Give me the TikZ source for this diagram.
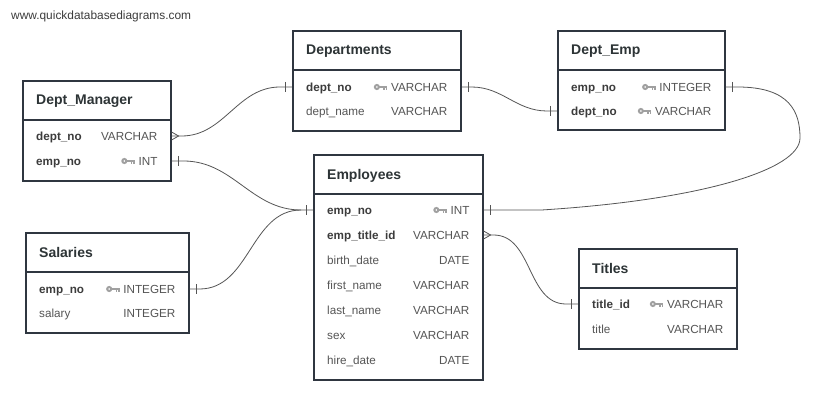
\documentclass[tikz,border=0pt]{standalone}
\usepackage{fontspec}
\setmainfont{Liberation Sans}
\definecolor{bordercol}{HTML}{2F3640}
\definecolor{titlecol}{HTML}{2D3436}
\definecolor{keytext}{HTML}{3C3C3C}
\definecolor{plaintext}{HTML}{555555}
\definecolor{keycol}{HTML}{A0A0A0}
\definecolor{conncol}{HTML}{555555}
\tikzset{
  tbox/.style={draw=bordercol, line width=1.6pt, fill=white, inner sep=0pt, anchor=north west},
  divline/.style={draw=bordercol, line width=1.6pt},
  ttitle/.style={anchor=west, inner sep=0pt, text height=10pt, text depth=0pt, font=\fontsize{14}{16}\selectfont\bfseries, text=titlecol},
  fkey/.style={anchor=west, inner sep=0pt, text height=8.4pt, text depth=0pt, font=\fontsize{11.7}{14}\selectfont\bfseries, text=keytext},
  fplain/.style={anchor=west, inner sep=0pt, text height=8.4pt, text depth=0pt, font=\fontsize{11.7}{14}\selectfont, text=plaintext},
  ftype/.style={anchor=east, inner sep=0pt, text height=8.4pt, text depth=0pt, font=\fontsize{11.7}{14}\selectfont, text=plaintext},
  conn/.style={draw=conncol, line width=0.8pt},
  keyicon/.pic={
    \draw[keycol, line width=2pt] (0,0) circle[radius=2pt];
    \fill[keycol] (2.5,-1.1) rectangle (10.5,1.1);
    \fill[keycol] (6.4,1.1) rectangle (7.8,3);
    \fill[keycol] (9.1,1.1) rectangle (10.5,3);
  }
}
% #1 name, #2 x, #3 y, #4 w, #5 h, #6 title
\newcommand\ertable[6]{%
  \node[tbox, minimum width=#4pt, minimum height=#5pt] (#1) at (#2,#3) {};
  \draw[divline] (#2,#3+40) -- (#2+#4,#3+40);
  \node[ttitle] (#1-title) at (#2+14,#3+20) {#6};
}
% #1 table, #2 row name, #3 y, #4 field, #5 type, #6 field style, #7 key (1/0)
\newcommand\errow[7]{%
  \coordinate (#1-#2-l) at (#1.west |- 0,#3);
  \coordinate (#1-#2-r) at (#1.east |- 0,#3);
  \node[#6] (#1-#2-f) at ([xshift=14pt]#1-#2-l) {#4};
  \node[ftype] (#1-#2-t) at ([xshift=-14pt]#1-#2-r) {#5};
  \ifnum#7=1 \pic at ([xshift=-14pt]#1-#2-t.west) {keyicon};\fi
}
\newcommand\barR[1]{\draw[conn] ([xshift=7pt]#1) ++(0,-5) -- ++(0,10);}
\newcommand\barL[1]{\draw[conn] ([xshift=-7pt]#1) ++(0,-5) -- ++(0,10);}
\newcommand\crowR[1]{\draw[conn] ([yshift=4pt]#1) -- ([xshift=7pt]#1) -- ([yshift=-4pt]#1);}
\begin{document}
\begin{tikzpicture}[x=1pt,y=-1pt]
\fill[white] (0,0) rectangle (837,414);
\useasboundingbox (0,0) rectangle (837,414);

\node[anchor=west, inner sep=0pt, font=\fontsize{11.9}{14}\selectfont, text=keytext] (site) at (11,16) {www.quickdatabasediagrams.com};

\ertable{dm}{22}{80}{148}{100}{Dept\_Manager}
\errow{dm}{dept}{136}{dept\_no}{VARCHAR}{fkey}{0}
\errow{dm}{emp}{161}{emp\_no}{INT}{fkey}{1}

\ertable{dep}{292}{30}{168}{100}{Departments}
\errow{dep}{dept}{87}{dept\_no}{VARCHAR}{fkey}{1}
\errow{dep}{name}{111}{dept\_name}{VARCHAR}{fplain}{0}

\ertable{de}{557}{30}{167}{99}{Dept\_Emp}
\errow{de}{emp}{87}{emp\_no}{INTEGER}{fkey}{1}
\errow{de}{dept}{111}{dept\_no}{VARCHAR}{fkey}{1}

\ertable{emp}{313}{154}{169}{225}{Employees}
\errow{emp}{emp}{210}{emp\_no}{INT}{fkey}{1}
\errow{emp}{title}{235}{emp\_title\_id}{VARCHAR}{fkey}{0}
\errow{emp}{birth}{260}{birth\_date}{DATE}{fplain}{0}
\errow{emp}{first}{285}{first\_name}{VARCHAR}{fplain}{0}
\errow{emp}{last}{310}{last\_name}{VARCHAR}{fplain}{0}
\errow{emp}{sex}{335}{sex}{VARCHAR}{fplain}{0}
\errow{emp}{hire}{360}{hire\_date}{DATE}{fplain}{0}

\ertable{sal}{25}{232}{163}{100}{Salaries}
\errow{sal}{emp}{289}{emp\_no}{INTEGER}{fkey}{1}
\errow{sal}{salary}{313}{salary}{INTEGER}{fplain}{0}

\ertable{tit}{578}{248}{158}{100}{Titles}
\errow{tit}{id}{304}{title\_id}{VARCHAR}{fkey}{1}
\errow{tit}{title}{329}{title}{VARCHAR}{fplain}{0}

% Dept_Manager.dept_no >- Departments.dept_no
\draw[conn] (dm-dept-r) -- ([xshift=10pt]dm-dept-r) to[out=0,in=180] ([xshift=-12pt]dep-dept-l) -- (dep-dept-l);
\crowR{dm-dept-r}
\barL{dep-dept-l}
% Dept_Manager.emp_no - Employees.emp_no
\draw[conn] (dm-emp-r) -- ([xshift=12pt]dm-emp-r) to[out=0,in=180] ([xshift=-12pt]emp-emp-l) -- (emp-emp-l);
\barR{dm-emp-r}
\barL{emp-emp-l}
% Departments.dept_no - Dept_Emp.dept_no
\draw[conn] (dep-dept-r) -- ([xshift=10pt]dep-dept-r) to[out=0,in=180] ([xshift=-10pt]de-dept-l) -- (de-dept-l);
\barR{dep-dept-r}
\barL{de-dept-l}
% Dept_Emp.emp_no - Employees.emp_no
\draw[conn] (de-emp-r) -- ([xshift=12pt]de-emp-r) .. controls (790,87) and (800,112) .. (800,138) .. controls (800,170) and (700,200) .. ([xshift=58pt]emp-emp-r) -- (emp-emp-r);
\barR{de-emp-r}
\barR{emp-emp-r}
% Salaries.emp_no - Employees.emp_no
\draw[conn] (sal-emp-r) -- ([xshift=10pt]sal-emp-r) to[out=0,in=180] ([xshift=-12pt]emp-emp-l);
\barR{sal-emp-r}
% Employees.emp_title_id >- Titles.title_id
\draw[conn] (emp-title-r) -- ([xshift=10pt]emp-title-r) to[out=0,in=180] ([xshift=-12pt]tit-id-l) -- (tit-id-l);
\crowR{emp-title-r}
\barL{tit-id-l}
\end{tikzpicture}
\end{document}
